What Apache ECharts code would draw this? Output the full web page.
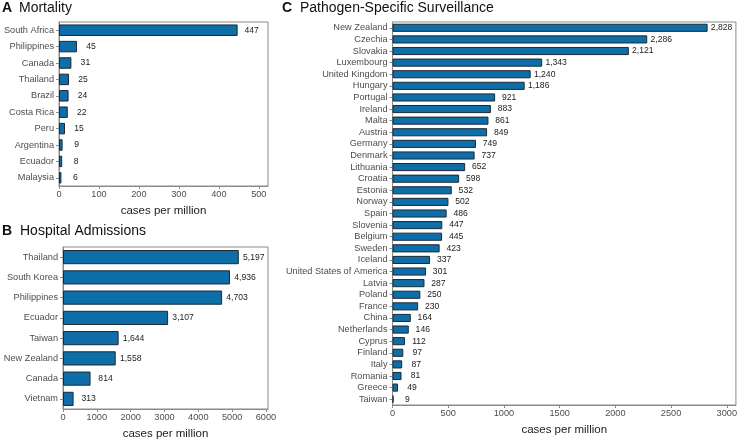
<!DOCTYPE html>
<html><head><meta charset="utf-8">
<script src="https://cdn.jsdelivr.net/npm/echarts@6/dist/echarts.min.js"></script>
<style>html,body{margin:0;padding:0;background:#fff}#c{width:740px;height:441px}</style>
</head><body><div id="c"></div>
<script>
// ---- data ----
const mortalityCountries = ['South Africa','Philippines','Canada','Thailand','Brazil','Costa Rica','Peru','Argentina','Ecuador','Malaysia'];
const mortalityValues = [447,45,31,25,24,22,15,9,8,6];
const mortalityTicks = [0,100,200,300,400,500];

const hospitalCountries = ['Thailand','South Korea','Philippines','Ecuador','Taiwan','New Zealand','Canada','Vietnam'];
const hospitalValues = [5197,4936,4703,3107,1644,1558,814,313];
const hospitalTicks = [0,1000,2000,3000,4000,5000,6000];

const pathogenCountries = ['New Zealand','Czechia','Slovakia','Luxembourg','United Kingdom','Hungary','Portugal','Ireland','Malta','Austria','Germany','Denmark','Lithuania','Croatia','Estonia','Norway','Spain','Slovenia','Belgium','Sweden','Iceland','United States of America','Latvia','Poland','France','China','Netherlands','Cyprus','Finland','Italy','Romania','Greece','Taiwan'];
const pathogenValues = [2828,2286,2121,1343,1240,1186,921,883,861,849,749,737,652,598,532,502,486,447,445,423,337,301,287,250,230,164,146,112,97,87,81,49,9];
const pathogenTicks = [0,500,1000,1500,2000,2500,3000];

const panelTitles = [['A','Mortality'],['B','Hospital Admissions'],['C','Pathogen-Specific Surveillance']];
const axisTitle = 'cases per million';

// ---- style ----
const FONT = '"Liberation Sans", Arial, Helvetica, sans-serif';
const GRAY = '#8a8a8a';
const BAR = '#0f6ea7';
const fmt = v => Number(v).toLocaleString('en-US');

const grids = [
  {left:59, top:22, width:209, height:164},
  {left:63, top:247, width:205, height:163},
  {left:392.5, top:22, width:343.5, height:388}
];
const maxes = [523, 6060, 3082];
const tickSets = [mortalityTicks, hospitalTicks, pathogenTicks];
const cats = [mortalityCountries, hospitalCountries, pathogenCountries];
const vals = [mortalityValues, hospitalValues, pathogenValues];

const option = {
  animation:false,
  backgroundColor:'#fff',
  grid: grids.map(g => Object.assign({show:true, borderColor:GRAY, borderWidth:1, backgroundColor:'transparent', containLabel:false}, g)),
  xAxis: grids.map((g,i)=>({
    type:'value', gridIndex:i, min:0, max:maxes[i],
    splitLine:{show:false},
    axisLine:{show:true, lineStyle:{color:GRAY}},
    axisTick:{show:true, length:3, lineStyle:{color:GRAY}, customValues: tickSets[i]},
    axisLabel:{color:'#4d4d4d', fontFamily:FONT, fontSize:9.2, margin:4, customValues: tickSets[i], formatter: v => String(v)},
    name: axisTitle, nameLocation:'middle', nameGap:19,
    nameTextStyle:{color:'#1a1a1a', fontFamily:FONT, fontSize:11.5, verticalAlign:'top'}
  })),
  yAxis: grids.map((g,i)=>({
    type:'category', gridIndex:i, data:cats[i], inverse:true,
    axisLine:{show:true, lineStyle:{color:GRAY}},
    axisTick:{show:true, length:3, alignWithLabel:true, interval:0, lineStyle:{color:GRAY}},
    axisLabel:{color:'#4d4d4d', fontFamily:FONT, fontSize:9.2, margin:5, interval:0}
  })),
  series: grids.map((g,i)=>({
    type:'bar', xAxisIndex:i, yAxisIndex:i, data:vals[i], barWidth:'70%',
    itemStyle:{color:BAR, borderColor:'#1b2a36', borderWidth:1},
    label:{show:true, position:'right', distance: i===1?15:14, align:'center',
      color:'#222', fontFamily:FONT, fontSize:8.6, formatter:p=>fmt(p.value)}
  })),
  graphic: [
    {type:'text', left:2, top:1, style:{text:panelTitles[0][0], font:'bold 14px '+FONT, fill:'#111'}},
    {type:'text', left:19, top:1, style:{text:panelTitles[0][1], font:'14px '+FONT, fill:'#111'}},
    {type:'text', left:2, top:224, style:{text:panelTitles[1][0], font:'bold 14px '+FONT, fill:'#111'}},
    {type:'text', left:20, top:224, style:{text:panelTitles[1][1], font:'14px '+FONT, fill:'#111'}},
    {type:'text', left:282, top:1, style:{text:panelTitles[2][0], font:'bold 14px '+FONT, fill:'#111'}},
    {type:'text', left:300, top:1, style:{text:panelTitles[2][1], font:'14px '+FONT, fill:'#111'}}
  ]
};
const chart = echarts.init(document.getElementById('c'), null, {renderer:'canvas'});
chart.setOption(option);
</script></body></html>
